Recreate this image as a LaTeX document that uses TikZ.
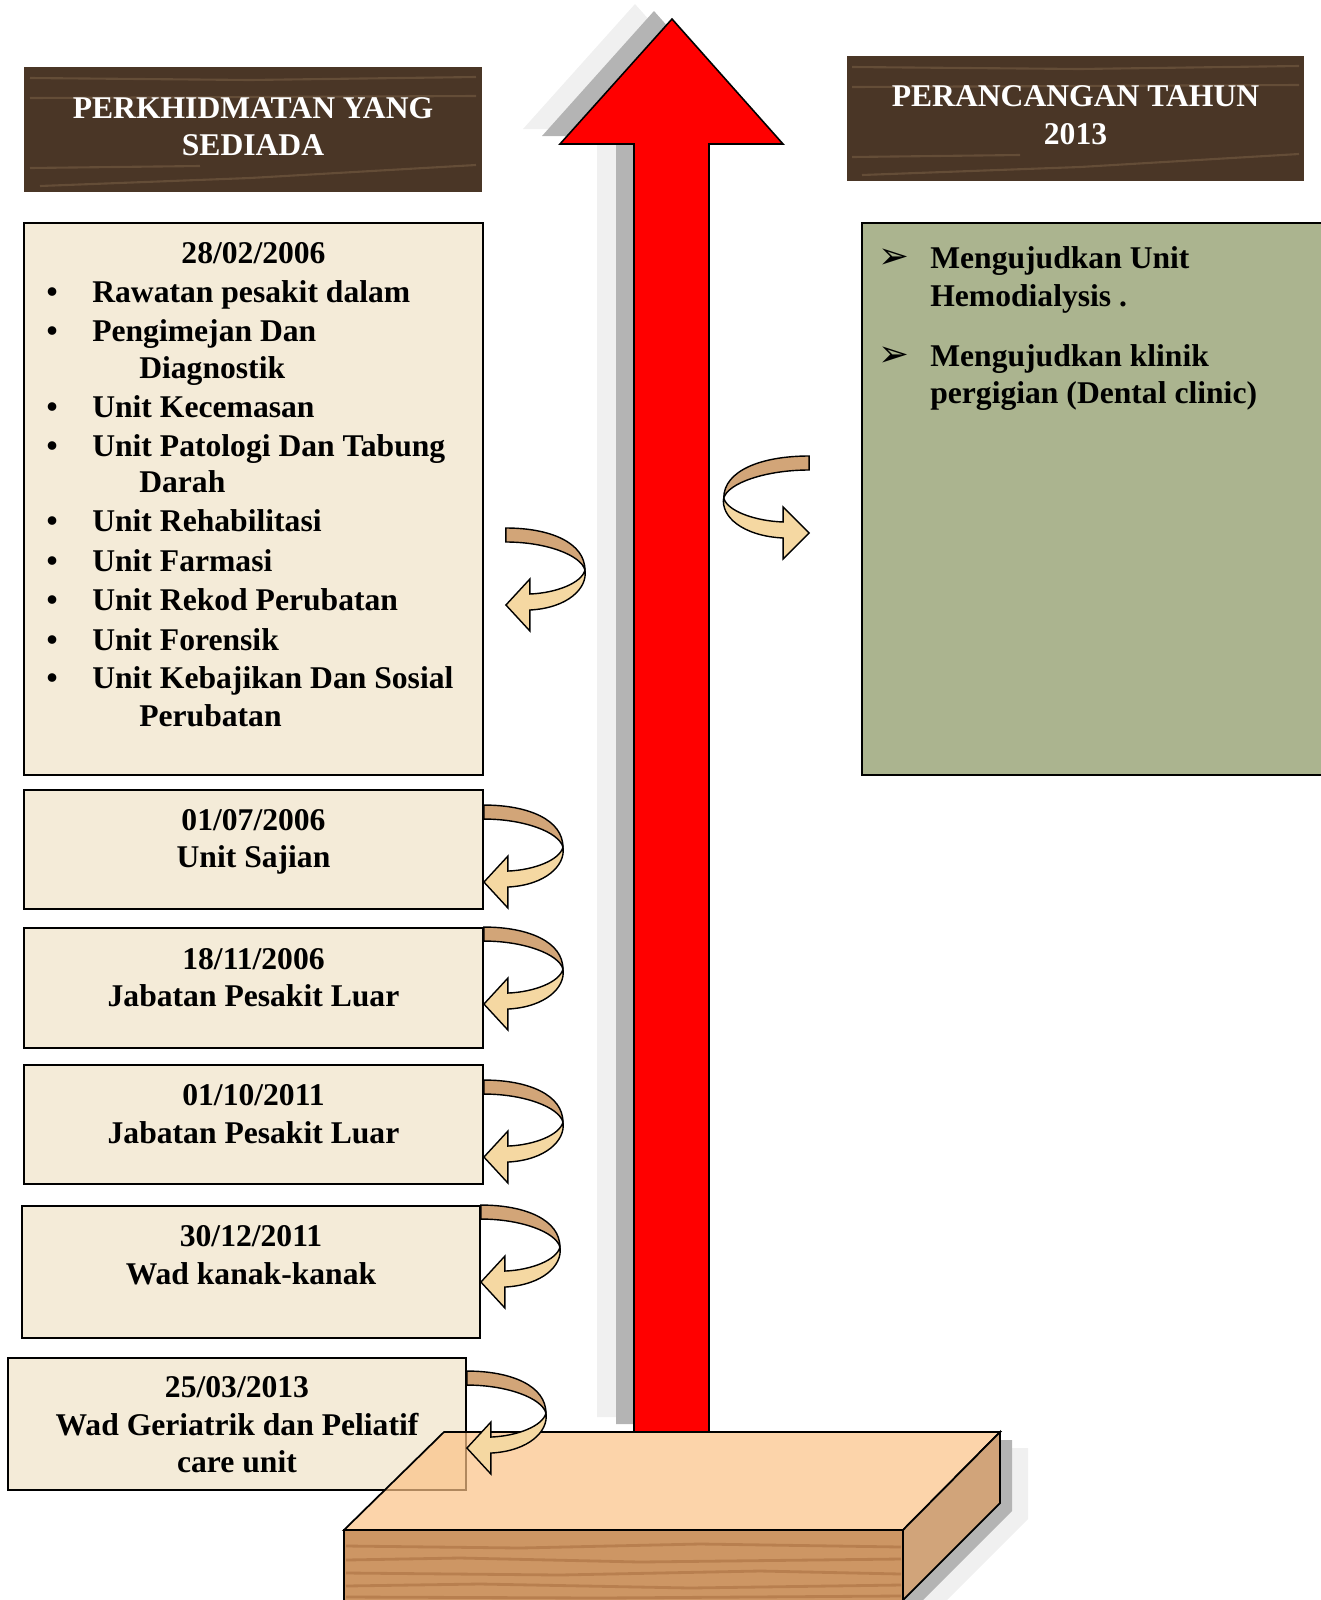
\documentclass[tikz,border=0pt]{standalone}
\usepackage{fontspec}
\setmainfont{Liberation Serif}
\newfontfamily\dingfont{DejaVu Sans}
\usetikzlibrary{calc}
\definecolor{woodhead}{RGB}{74,54,38}
\definecolor{woodline}{RGB}{122,96,70}
\definecolor{parch}{RGB}{244,235,216}
\definecolor{moss}{RGB}{171,180,143}
\definecolor{bandtop}{RGB}{210,165,120}
\definecolor{bandlow}{RGB}{245,216,162}
\definecolor{slabtop}{RGB}{252,195,134}
\definecolor{slabside}{RGB}{209,164,122}
\definecolor{slabfront}{RGB}{205,150,100}
\definecolor{slabgrain}{RGB}{160,100,55}
\definecolor{shadowdark}{RGB}{180,180,180}
\definecolor{shadowlight}{RGB}{240,240,240}
\newcommand\uparrowoutline{(672,19) -- (783,144) -- (709,144) -- (709,1432) -- (634,1432) -- (634,144) -- (560,144) -- cycle}
\newcommand\slaboutline{(444,1432) -- (1000,1432) -- (1000,1503) -- (903,1600) -- (344,1600) -- (344,1530) -- cycle}
\newcommand\slabface{(444,1432) -- (1000,1432) -- (903,1530) -- (344,1530) -- cycle}
\tikzset{
    headbox/.style={fill=woodhead, inner sep=0pt},
    headgrain/.style={woodline, line width=1.2pt, opacity=0.55},
    parchbox/.style={draw, fill=parch, line width=1.1pt, inner sep=0pt},
    mossbox/.style={draw, fill=moss, line width=1.1pt, inner sep=0pt},
    headtext/.style={text=white, anchor=base},
    datetext/.style={anchor=base},
    itemtext/.style={anchor=base west},
    dot/.style={anchor=base},
    pointer/.style={anchor=base, font=\dingfont\fontsize{21}{21}\selectfont},
    grain/.style={slabgrain, line width=1.6pt, opacity=0.45},
    turnarrow/.pic={
        \fill[bandtop, draw=black, line width=0.8pt] (0,0) .. controls (45,0) and (79,15) .. (79,42) .. controls (75,27) and (40,14) .. (0,14) -- cycle;
        \fill[bandlow, draw=black, line width=0.8pt] (79,42) .. controls (82,60) and (62,80) .. (24,82) -- (24,103) -- (0,77) -- (24,51) -- (24,66) .. controls (50,65) and (76,55) .. (79,42) -- cycle;
    },
}

\begin{document}
\begin{tikzpicture}[x=0.02cm, y=-0.02cm, font=\fontsize{18}{21}\selectfont\bfseries]
\useasboundingbox (0,0) rectangle (1320,1600);

\fill[shadowlight, shift={(-37,-15)}] \uparrowoutline;
\fill[shadowdark, shift={(-18,-8)}] \uparrowoutline;
\fill[red, draw=black, line width=0.9pt] \uparrowoutline;

\fill[shadowlight, shift={(28,16)}] \slaboutline;
\fill[shadowdark, shift={(12,8)}] \slaboutline;
\fill[white] \slabface;

\node[headbox, minimum width=9.16cm, minimum height=2.5cm] (h1) at (253,129.5) {};
\draw[headgrain] (30,78) -- (250,80) -- (476,77);
\draw[headgrain] (30,98) -- (476,96);
\draw[headgrain] (30,168) -- (200,166);
\draw[headgrain] (40,186) -- (250,178) -- (476,165);
\node[headtext] (h1a) at ($(h1.north)+(0,52)$) {PERKHIDMATAN YANG};
\node[headtext] (h1b) at ($(h1.north)+(0,89)$) {SEDIADA};

\node[headbox, minimum width=9.14cm, minimum height=2.5cm] (h2) at (1075.5,118.5) {};
\draw[headgrain] (852,67) -- (1080,69) -- (1299,66);
\draw[headgrain] (852,87) -- (1299,85);
\draw[headgrain] (852,157) -- (1020,155);
\draw[headgrain] (862,175) -- (1080,167) -- (1299,154);
\node[headtext] (h2a) at ($(h2.north)+(0,51)$) {PERANCANGAN TAHUN};
\node[headtext] (h2b) at ($(h2.north)+(0,89)$) {2013};

\node[parchbox, minimum width=9.18cm, minimum height=11.04cm] (b1) at (253.5,499) {};
\node[datetext] (d1) at ($(b1.north)+(0,41)$) {28/02/2006};
\node[dot] (p1) at ($(b1.north west)+(29,80)$) {\textbullet};
\node[itemtext] (t1) at ($(b1.north west)+(63,80)$) {Rawatan pesakit dalam};
\node[dot] (p2) at ($(b1.north west)+(29,119.5)$) {\textbullet};
\node[itemtext] (t2) at ($(b1.north west)+(63,119.5)$) {Pengimejan Dan};
\node[itemtext] (t2b) at ($(b1.north west)+(110,156)$) {Diagnostik};
\node[dot] (p3) at ($(b1.north west)+(29,195)$) {\textbullet};
\node[itemtext] (t3) at ($(b1.north west)+(63,195)$) {Unit Kecemasan};
\node[dot] (p4) at ($(b1.north west)+(29,234)$) {\textbullet};
\node[itemtext] (t4) at ($(b1.north west)+(63,234)$) {Unit Patologi Dan Tabung};
\node[itemtext] (t4b) at ($(b1.north west)+(110,270.5)$) {Darah};
\node[dot] (p5) at ($(b1.north west)+(29,309)$) {\textbullet};
\node[itemtext] (t5) at ($(b1.north west)+(63,309)$) {Unit Rehabilitasi};
\node[dot] (p6) at ($(b1.north west)+(29,349)$) {\textbullet};
\node[itemtext] (t6) at ($(b1.north west)+(63,349)$) {Unit Farmasi};
\node[dot] (p7) at ($(b1.north west)+(29,388)$) {\textbullet};
\node[itemtext] (t7) at ($(b1.north west)+(63,388)$) {Unit Rekod Perubatan};
\node[dot] (p8) at ($(b1.north west)+(29,428)$) {\textbullet};
\node[itemtext] (t8) at ($(b1.north west)+(63,428)$) {Unit Forensik};
\node[dot] (p9) at ($(b1.north west)+(29,466)$) {\textbullet};
\node[itemtext] (t9) at ($(b1.north west)+(63,466)$) {Unit Kebajikan Dan Sosial};
\node[itemtext] (t9b) at ($(b1.north west)+(110,504)$) {Perubatan};

\node[mossbox, minimum width=9.2cm, minimum height=11.04cm] (g1) at (1092,499) {};
\node[pointer] (q1) at ($(g1.north west)+(33,46)$) {➢};
\node[itemtext] (r1) at ($(g1.north west)+(63,46)$) {Mengujudkan Unit};
\node[itemtext] (r1b) at ($(g1.north west)+(63,84)$) {Hemodialysis .};
\node[pointer] (q2) at ($(g1.north west)+(33,144)$) {➢};
\node[itemtext] (r2) at ($(g1.north west)+(63,144)$) {Mengujudkan klinik};
\node[itemtext] (r2b) at ($(g1.north west)+(63,181)$) {pergigian (Dental clinic)};

\node[parchbox, minimum width=9.18cm, minimum height=2.38cm] (b2) at (253.5,849.5) {};
\node[datetext] (d2) at ($(b2.north)+(0,41)$) {01/07/2006};
\node[datetext] (u2) at ($(b2.north)+(0,78)$) {Unit Sajian};

\node[parchbox, minimum width=9.18cm, minimum height=2.4cm] (b3) at (253.5,988) {};
\node[datetext] (d3) at ($(b3.north)+(0,42)$) {18/11/2006};
\node[datetext] (u3) at ($(b3.north)+(0,79)$) {Jabatan Pesakit Luar};

\node[parchbox, minimum width=9.18cm, minimum height=2.38cm] (b4) at (253.5,1124.5) {};
\node[datetext] (d4) at ($(b4.north)+(0,41)$) {01/10/2011};
\node[datetext] (u4) at ($(b4.north)+(0,79)$) {Jabatan Pesakit Luar};

\node[parchbox, minimum width=9.16cm, minimum height=2.64cm] (b5) at (251,1272) {};
\node[datetext] (d5) at ($(b5.north)+(0,41)$) {30/12/2011};
\node[datetext] (u5) at ($(b5.north)+(0,79)$) {Wad kanak-kanak};

\node[parchbox, minimum width=9.16cm, minimum height=2.64cm] (b6) at (237,1424) {};
\node[datetext] (d6) at ($(b6.north)+(0,40)$) {25/03/2013};
\node[datetext] (u6) at ($(b6.north)+(0,78)$) {Wad Geriatrik dan Peliatif};
\node[datetext] (u6b) at ($(b6.north)+(0,115)$) {care unit};

\fill[slabtop, fill opacity=0.7, draw=black, line width=1pt] \slabface;
\fill[slabside, draw=black, line width=1pt] (903,1530) -- (1000,1432) -- (1000,1503) -- (903,1600) -- cycle;
\fill[slabfront, draw=black, line width=1pt] (344,1530) rectangle (903,1606);
\draw[grain] (346,1546) -- (520,1548) -- (700,1544) -- (901,1547);
\draw[grain] (346,1560) -- (460,1558) -- (640,1562) -- (901,1559);
\draw[grain] (346,1573) -- (560,1575) -- (760,1571) -- (901,1574);
\draw[grain] (346,1586) -- (480,1584) -- (690,1588) -- (901,1585);
\draw[grain] (346,1597) -- (600,1598) -- (901,1596);

\pic at ($(b1.east)+(22,29)$) {turnarrow};
\pic at ($(b2.north east)+(0,16)$) {turnarrow};
\pic at (b3.north east) {turnarrow};
\pic at ($(b4.north east)+(0,16)$) {turnarrow};
\pic at (b5.north east) {turnarrow};
\pic at ($(b6.north east)+(0,14)$) {turnarrow};
\pic[xscale=-1.08] at ($(g1.west)+(-52,-43)$) {turnarrow};
\end{tikzpicture}
\end{document}
